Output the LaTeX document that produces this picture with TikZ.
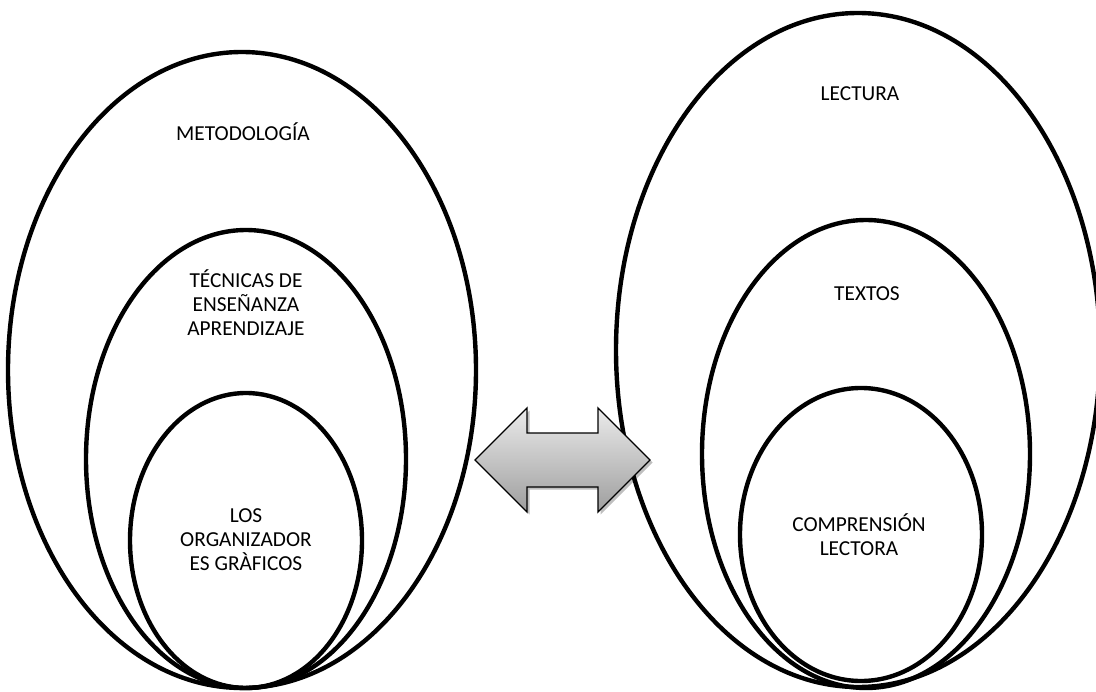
\documentclass[tikz,border=0pt]{standalone}
\usepackage{fontspec}
\setmainfont{Carlito}
\usetikzlibrary{shapes.geometric}
\begin{document}
\begin{tikzpicture}[x=0.75pt,y=-0.75pt,
  oval/.style={draw=black,line width=3.3pt,ellipse,inner sep=0pt,outer sep=0pt},
  lbl/.style={align=center,inner sep=0pt,font=\fontsize{16}{18}\selectfont}]
\useasboundingbox[fill=white] (0,0) rectangle (1096,692);
% left group
\node[oval,minimum width=351pt,minimum height=477pt] (met) at (242,370) {};
\node[oval,minimum width=240pt,minimum height=343.5pt] (tec) at (246,459) {};
\node[oval,minimum width=174pt,minimum height=221.25pt] (org) at (246,540.5) {};
% right group
\node[oval,minimum width=363pt,minimum height=505.5pt] (lec) at (858,350) {};
\node[oval,minimum width=246pt,minimum height=351pt] (tex) at (866,454) {};
\node[oval,minimum width=181.5pt,minimum height=219.75pt] (com) at (861,534.5) {};
% labels
\node[lbl] (tmet) at (243,132) {METODOLOGÍA};
\node[lbl] (ttec) at (246,303) {TÉCNICAS DE\\ENSEÑANZA\\APRENDIZAJE};
\node[lbl] (torg) at (246,540) {LOS\\ORGANIZADOR\\ES GRÀFICOS};
\node[lbl] (tlec) at (860,94) {LECTURA};
\node[lbl] (ttex) at (867,294) {TEXTOS};
\node[lbl] (tcom) at (859,535) {COMPRENSIÓN\\LECTORA};
% double arrow
\def\arrowpath{(475,460) -- (527,408) -- (527,433) -- (598,433) -- (598,408) -- (650,460) -- (598,512) -- (598,487) -- (527,487) -- (527,512) -- cycle}
\fill[black,opacity=0.25,shift={(2.5,2.5)}] \arrowpath;
\shade[top color=black!8,bottom color=black!38] \arrowpath;
\draw[black,line width=1pt,line join=miter] \arrowpath;
\end{tikzpicture}
\end{document}
